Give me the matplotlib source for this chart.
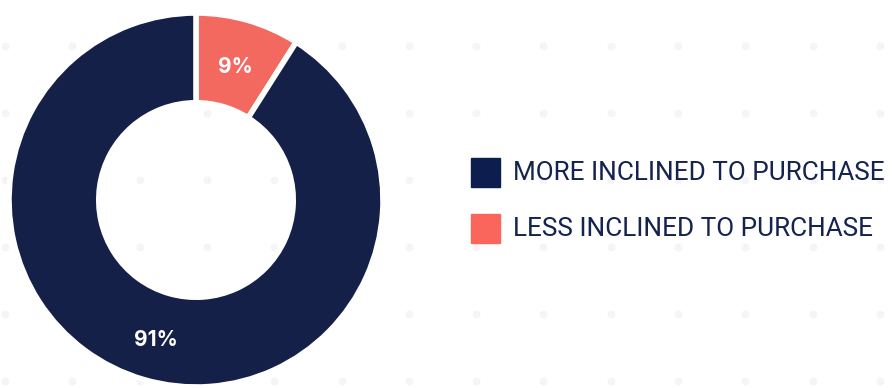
import numpy as np
import matplotlib
matplotlib.use("Agg")
import matplotlib.pyplot as plt
from matplotlib.patches import Rectangle

# data
labels = ["MORE INCLINED TO PURCHASE", "LESS INCLINED TO PURCHASE"]
shares = [91, 9]
slice_colors = ["#152049", "#f36960"]
legend_colors = ["#0b1e4d", "#fa665c"]
text_color = "#14234f"

W, H = 892, 388
fig = plt.figure(figsize=(W / 100, H / 100), dpi=100)
fig.patch.set_facecolor("white")

# background dot grid, in pixel coords
bg = fig.add_axes([0, 0, 1, 1])
bg.set_xlim(0, W)
bg.set_ylim(H, 0)
bg.axis("off")
gx, gy = np.meshgrid(np.arange(5, W + 10, 67.3), np.arange(46, H + 10, 67))
bg.scatter(gx.ravel(), gy.ravel(), s=32, color="#f5f5f5", linewidths=0, zorder=0)

# donut
cx, cy, R = 196, 200, 187
ax = fig.add_axes([(cx - R) / W, (H - cy - R) / H, 2 * R / W, 2 * R / H])
wedges, _ = ax.pie(shares[::-1], colors=slice_colors[::-1], startangle=90,
                   counterclock=False, radius=1,
                   wedgeprops=dict(width=0.48, edgecolor="white", linewidth=4))
ax.set_xlim(-1, 1)
ax.set_ylim(-1, 1)
ax.set_aspect("equal")
ax.axis("off")

for w, v in zip(wedges, shares[::-1]):
    ang = np.deg2rad((w.theta1 + w.theta2) / 2)
    ax.text(0.76 * np.cos(ang), 0.76 * np.sin(ang) - 0.02, f"{v}%", color="white",
            fontsize=15, fontweight="bold", ha="center", va="center",
            family=["Inter", "DejaVu Sans"])

# legend drawn manually in pixel coords
for i, (lab, col) in enumerate(zip(labels, legend_colors)):
    y = 172 + i * 56
    bg.add_patch(Rectangle((471, y - 14.5), 29, 29, color=col, zorder=2))
    bg.text(513, y + 1, lab, color=text_color, fontsize=18.8, ha="left",
            va="center", family=["Roboto", "DejaVu Sans"], zorder=2)

fig.savefig("out.png", dpi=100, facecolor="white")
